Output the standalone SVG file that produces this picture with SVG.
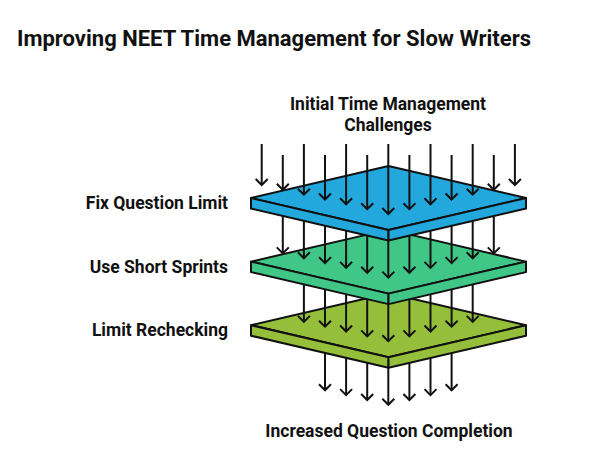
<svg xmlns="http://www.w3.org/2000/svg" width="601" height="472" viewBox="0 0 601 472">
<style>
text{font-family:Roboto,"Liberation Sans",sans-serif;font-weight:bold;fill:#111}
.t{font-size:22px}
.l{font-size:17.5px}
.a line{stroke:#111;stroke-width:2;marker-end:url(#ah)}
.p path{stroke:#111;stroke-width:2;stroke-linejoin:round}
.blue path{fill:#22A8DC}
.green path{fill:#40C686}
.olive path{fill:#95BF3B}
</style>
<defs>
<marker id="ah" viewBox="-8 -8 10 16" markerWidth="10" markerHeight="16" refX="0" refY="0" orient="auto" markerUnits="userSpaceOnUse">
<path d="M-6,-6 L0,0 L-6,6" fill="none" stroke="#111" stroke-width="2"/>
</marker>
</defs>
<rect width="601" height="472" fill="#fff"/>
<g id="title"><text class="t" x="17" y="46">Improving NEET Time Management for Slow Writers</text></g>
<g id="input"><text class="l" x="388" y="110" text-anchor="middle">Initial Time Management</text><text class="l" x="388" y="131" text-anchor="middle">Challenges</text></g>
<g id="output"><text class="l" x="389" y="437" text-anchor="middle">Increased Question Completion</text></g>

<g id="connectors-bottom" class="a">
<line x1="325" y1="330" x2="325" y2="390.3"/>
<line x1="346.1" y1="335" x2="346.1" y2="395.1"/>
<line x1="367.2" y1="340" x2="367.2" y2="400"/>
<line x1="388.3" y1="345" x2="388.3" y2="404.8"/>
<line x1="409.4" y1="340" x2="409.4" y2="400"/>
<line x1="430.5" y1="335" x2="430.5" y2="395.1"/>
<line x1="451.6" y1="330" x2="451.6" y2="390.3"/>
</g>
<g id="limit-rechecking" class="p olive">
<path d="M251,325.2 L388.5,293.2 L526,325.2 L388.5,357.2 Z"/>
<path d="M251,325.2 L388.5,357.2 L388.5,367.7 L251,335.7 Z"/>
<path d="M388.5,357.2 L526,325.2 L526,335.7 L388.5,367.7 Z"/>
<text class="l" x="228" y="336" text-anchor="end">Limit Rechecking</text>
</g>
<g id="connectors-level2" class="a">
<line x1="303.9" y1="263" x2="303.9" y2="321.9"/>
<line x1="325" y1="268" x2="325" y2="326.7"/>
<line x1="346.1" y1="273" x2="346.1" y2="331.5"/>
<line x1="367.2" y1="278" x2="367.2" y2="336.4"/>
<line x1="388.3" y1="283" x2="388.3" y2="341.2"/>
<line x1="409.4" y1="278" x2="409.4" y2="336.4"/>
<line x1="430.5" y1="273" x2="430.5" y2="331.5"/>
<line x1="451.6" y1="268" x2="451.6" y2="326.7"/>
<line x1="472.7" y1="263" x2="472.7" y2="321.9"/>
</g>
<g id="use-short-sprints" class="p green">
<path d="M251,261.6 L388.5,229.6 L526,261.6 L388.5,293.6 Z"/>
<path d="M251,261.6 L388.5,293.6 L388.5,304.1 L251,272.1 Z"/>
<path d="M388.5,293.6 L526,261.6 L526,272.1 L388.5,304.1 Z"/>
<text class="l" x="228" y="273" text-anchor="end">Use Short Sprints</text>
</g>
<g id="connectors-level1" class="a">
<line x1="282.8" y1="195" x2="282.8" y2="253.4"/>
<line x1="303.9" y1="200" x2="303.9" y2="258.3"/>
<line x1="325" y1="205" x2="325" y2="263.1"/>
<line x1="346.1" y1="210" x2="346.1" y2="267.9"/>
<line x1="367.2" y1="215" x2="367.2" y2="272.8"/>
<line x1="388.3" y1="220" x2="388.3" y2="277.6"/>
<line x1="409.4" y1="215" x2="409.4" y2="272.8"/>
<line x1="430.5" y1="210" x2="430.5" y2="267.9"/>
<line x1="451.6" y1="205" x2="451.6" y2="263.1"/>
<line x1="472.7" y1="200" x2="472.7" y2="258.3"/>
<line x1="493.8" y1="195" x2="493.8" y2="253.4"/>
</g>
<g id="fix-question-limit" class="p blue">
<path d="M251,198 L388.5,166 L526,198 L388.5,230 Z"/>
<path d="M251,198 L388.5,230 L388.5,240.5 L251,208.5 Z"/>
<path d="M388.5,230 L526,198 L526,208.5 L388.5,240.5 Z"/>
<text class="l" x="228" y="209" text-anchor="end">Fix Question Limit</text>
</g>
<g id="connectors-top" class="a">
<line x1="261.7" y1="144" x2="261.7" y2="185"/>
<line x1="282.8" y1="155" x2="282.8" y2="189.8"/>
<line x1="303.9" y1="144" x2="303.9" y2="194.7"/>
<line x1="325" y1="155" x2="325" y2="199.5"/>
<line x1="346.1" y1="144" x2="346.1" y2="204.3"/>
<line x1="367.2" y1="155" x2="367.2" y2="209.2"/>
<line x1="388.3" y1="144" x2="388.3" y2="214"/>
<line x1="409.4" y1="155" x2="409.4" y2="209.2"/>
<line x1="430.5" y1="144" x2="430.5" y2="204.3"/>
<line x1="451.6" y1="155" x2="451.6" y2="199.5"/>
<line x1="472.7" y1="144" x2="472.7" y2="194.7"/>
<line x1="493.8" y1="155" x2="493.8" y2="189.8"/>
<line x1="514.9" y1="144" x2="514.9" y2="185"/>
</g>
</svg>
